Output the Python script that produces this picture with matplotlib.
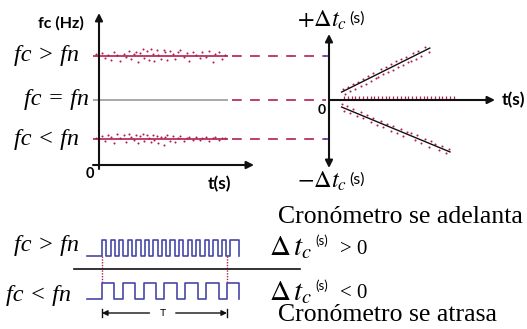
import numpy as np
import matplotlib
matplotlib.use("Agg")
import matplotlib.pyplot as plt

plt.rcParams['mathtext.fontset'] = 'stix'
plt.rcParams['lines.scale_dashes'] = False

# ---------------- data ----------------
# left panel: frequency levels (relative, fc = fn at 0)
freq_levels = [1.0, 0.0, -0.886]          # fc>fn, fc=fn, fc<fn
level_labels = ['fc > fn', 'fc = fn', 'fc < fn']
t_line = [-0.47, 10.0]                    # time span of the level lines (s)
t_guide = [10.3, 17.6]                    # dashed guide span

t_noise = [-0.2, 0.2, 0.5, 0.7, 0.9, 1.2, 1.4, 1.6, 1.9, 2.1, 2.3, 2.5, 2.7, 2.9, 3.0, 3.2,
           3.4, 3.5, 3.7, 3.9, 4.0, 4.2, 4.3, 4.5, 4.6, 4.8, 5.0, 5.1, 5.3, 5.5, 5.7, 5.9,
           6.1, 6.3, 6.6, 6.8, 7.0, 7.3, 7.5, 7.8, 8.0, 8.3, 8.5, 8.8, 9.0, 9.3, 9.5, 9.8]
off_hi = [0.04, 0.06, -0.05, 0.03, -0.08, 0.09, 0.02, -0.11, 0.05, -0.03, 0.12, -0.07, 0.04,
          0.10, -0.13, 0.07, 0.15, -0.04, 0.11, -0.09, 0.16, 0.05, -0.12, 0.13, 0.02, -0.06,
          0.14, 0.08, -0.10, 0.12, 0.04, -0.07, 0.09, 0.13, -0.03, 0.06, -0.11, 0.10, 0.03,
          -0.05, 0.08, -0.02, 0.11, -0.14, 0.05, 0.09, -0.06, 0.03]
off_lo = [0.03, 0.07, -0.04, 0.10, 0.05, -0.08, 0.11, 0.02, 0.09, -0.06, 0.12, 0.04, -0.03,
          0.08, -0.10, 0.06, 0.11, -0.05, 0.09, 0.03, -0.07, 0.10, -0.02, 0.06, -0.09, 0.04,
          -0.13, 0.05, 0.08, -0.04, 0.07, -0.06, 0.03, 0.06, -0.05, 0.02, 0.05, -0.03, 0.04,
          -0.02, 0.03, 0.05, -0.04, 0.02, 0.04, -0.03, 0.02, 0.03]

# right panel: clock offset Delta t_c versus time
t_up = [1.1, 1.3, 1.5, 1.7, 1.9, 2.1, 2.3, 2.5, 2.7, 2.9, 3.1, 3.3, 3.5, 3.7, 3.9, 4.1, 4.3,
        4.5, 4.7, 4.9, 5.1, 5.3, 5.5, 5.7, 5.9, 6.1, 6.3, 6.5, 6.7, 6.9, 7.1, 7.3, 7.6, 7.9]
dt_up = [0.24, 0.13, 0.30, 0.20, 0.37, 0.26, 0.42, 0.31, 0.48, 0.36, 0.55, 0.44, 0.62, 0.50,
         0.52, 0.70, 0.58, 0.76, 0.63, 0.82, 0.68, 0.88, 0.74, 0.93, 0.80, 0.98, 0.86, 0.89,
         1.06, 0.93, 1.12, 1.01, 1.20, 1.10]
t_dn = [1.0, 1.2, 1.4, 1.7, 1.9, 2.2, 2.5, 2.7, 3.0, 3.3, 3.5, 3.8, 4.1, 4.3, 4.6, 4.9, 5.1,
        5.4, 5.7, 5.9, 6.2, 6.5, 6.8, 7.0, 7.3, 7.6, 7.9, 8.1, 8.4, 8.7, 9.0, 9.3, 9.5]
dt_dn = [-0.08, -0.24, -0.14, -0.30, -0.20, -0.36, -0.27, -0.42, -0.33, -0.50, -0.40, -0.56,
         -0.47, -0.62, -0.54, -0.70, -0.58, -0.75, -0.66, -0.82, -0.72, -0.76, -0.92, -0.80,
         -0.98, -0.88, -1.06, -0.93, -0.99, -1.13, -1.04, -1.21, -1.12]
fit_up_t, fit_up_dt = [1.0, 8.0], [0.18, 1.18]
fit_dn_t, fit_dn_dt = [1.0, 9.6], [-0.16, -1.18]
zero_t = [1.2, 1.5, 1.8, 2.1, 2.4, 2.7, 3.0, 3.3, 3.6, 3.9, 4.2, 4.5, 4.8, 5.1, 5.4, 5.7, 6.0,
          6.3, 6.6, 6.9, 7.2, 7.5, 7.8, 8.1, 8.4, 8.7, 9.0, 9.3, 9.6, 9.9]

# bottom: pulse trains over window T
n_fast, fast_period, fast_end = 16, 0.0685, 1.096
n_slow, slow_period, slow_high = 7, 1 / 6, 0.10
lead_in = -0.12

RED = '#B0204E'
BLUE = '#4848A8'
W, H = 527, 329

fig = plt.figure(figsize=(W / 100, H / 100), dpi=100)


def data_axes(box, xcal, ycal):
    L, T, R, B = box
    ax = fig.add_axes([L / W, 1 - B / H, (R - L) / W, (B - T) / H])
    (d0, p0), (d1, p1) = xcal
    s = (d1 - d0) / (p1 - p0)
    ax.set_xlim(d0 + (L - p0) * s, d0 + (R - p0) * s)
    (e0, q0), (e1, q1) = ycal
    s2 = (e1 - e0) / (q1 - q0)
    ax.set_ylim(e0 + (B - q0) * s2, e0 + (T - q0) * s2)
    ax.axis('off')
    return ax


# overlay for axes arrows and text (pixel coordinates)
ov = fig.add_axes([0, 0, 1, 1], zorder=5)
ov.set_xlim(0, W)
ov.set_ylim(H, 0)
ov.axis('off')
ov.patch.set_alpha(0)


def arrow(x0, y0, x1, y1, style='-|>', lw=1.5, ms=11):
    ov.annotate('', xy=(x1, y1), xytext=(x0, y0),
                arrowprops=dict(arrowstyle=style, color='#111111', lw=lw,
                                mutation_scale=ms, shrinkA=0, shrinkB=0))


SCRIPT = dict(fontsize=17.5, style='italic', family='Liberation Serif', va='center')
SANSB = dict(fontweight='bold', family='Lato', ha='center', va='center')

# ---------------- left panel ----------------
ax1 = data_axes((80, 10, 262, 175), ((0, 99), (10, 228)), ((0, 100), (1, 56)))
for lvl, col in zip(freq_levels, [RED, '#9a9a9a', RED]):
    ax1.plot(t_line, [lvl, lvl], color=col, lw=1.2, solid_capstyle='butt')
    ax1.plot(t_guide, [lvl, lvl], color=RED, lw=1.2, clip_on=False, dashes=(7, 6))
ax1.scatter(t_noise, np.array(off_hi) + freq_levels[0], s=2.2, color=RED, lw=0)
ax1.scatter(t_noise, np.array(off_lo) + freq_levels[2], s=2.2, color=RED, lw=0)

arrow(99, 169, 99, 13)
arrow(93, 165, 254, 165)

ov.text(61, 23, 'fc (Hz)', fontsize=11.5, **SANSB)
ov.text(90, 174, '0', fontsize=10.5, **SANSB)
ov.text(219, 184, 't(s)', fontsize=12.5, **SANSB)
for lab, lvl_px, xr in zip(level_labels, [56, 100, 139], [79, 89, 79]):
    ov.text(xr, lvl_px, lab, ha='right', **SCRIPT)

# ---------------- right panel ----------------
ax2 = data_axes((300, 10, 500, 175), ((0, 329), (10, 455)), ((0, 100), (1, 56)))
ax2.plot(fit_up_t, fit_up_dt, color='#111111', lw=1.0)
ax2.plot(fit_dn_t, fit_dn_dt, color='#111111', lw=1.0)
ax2.scatter(t_up, dt_up, s=2.2, color=RED, lw=0)
ax2.scatter(t_dn, dt_dn, s=2.2, color=RED, lw=0)
ax2.scatter(zero_t, [0.04] * len(zero_t), s=6, color=RED, marker='|', lw=0.9)
ax2.plot([-0.3, 0.0], [1.0, 1.0], color=BLUE, lw=1.2, clip_on=False)
ax2.plot([-0.3, 0.0], [freq_levels[2], freq_levels[2]], color=BLUE, lw=1.2, clip_on=False)

arrow(329, 100, 329, 34)
arrow(329, 100, 329, 168)
arrow(329, 100, 495, 100)

ov.text(297, 20, r'$+\Delta t_c$', fontsize=17.5, ha='left', va='center')
ov.text(349, 19, '(s)', fontsize=11.5, family='Lato', ha='left', va='center')
ov.text(297, 181, r'$-\Delta t_c$', fontsize=17.5, ha='left', va='center')
ov.text(349, 180, '(s)', fontsize=11.5, family='Lato', ha='left', va='center')
ov.text(322, 110, '0', fontsize=10, **SANSB)
ov.text(513, 100, 't(s)', fontsize=12.5, **SANSB)

# ---------------- bottom pulse trains ----------------
ax3 = data_axes((70, 228, 310, 322), ((0, 102), (1, 227)), ((0, 299), (1, 283)))


def square(rises, falls, base):
    xs, ys = [lead_in, rises[0]], [base, base]
    for r, f in zip(rises, falls):
        xs += [r, r, f, f]
        ys += [base, base + 1, base + 1, base]
    return xs, ys


base_fast = 2.69
fr = [k * fast_period for k in range(n_fast)]
ff = [r + fast_period / 2 for r in fr]
ff[-1] = fast_end
xf, yf = square(fr, ff, base_fast)
ax3.plot(xf, yf, color=BLUE, lw=1.2)

sr = [k * slow_period for k in range(n_slow)]
sf = [r + slow_high for r in sr]
xs_, ys_ = square(sr, sf, 0.0)
ax3.plot(xs_, ys_, color=BLUE, lw=1.2)

for tv in [0.0, 1.0]:
    ax3.plot([tv, tv], [base_fast, 1.0], color=RED, lw=1.0, ls=(0, (1, 1)))
ax3.plot([-0.224, 1.584], [1.875, 1.875], color='#111111', lw=1.2)

# T span arrow
ax3.annotate('', xy=(0.0, -0.875), xytext=(0.38, -0.875),
             arrowprops=dict(arrowstyle='-|>', color='#111111', lw=1.0, mutation_scale=8,
                             shrinkA=0, shrinkB=0))
ax3.annotate('', xy=(1.0, -0.875), xytext=(0.59, -0.875),
             arrowprops=dict(arrowstyle='-|>', color='#111111', lw=1.0, mutation_scale=8,
                             shrinkA=0, shrinkB=0))
ax3.plot([0.0, 0.0], [-0.6, -1.15], color='#111111', lw=1.0)
ax3.plot([1.0, 1.0], [-0.6, -1.15], color='#111111', lw=1.0)
ax3.text(0.49, -0.875, 'T', fontsize=7.5, family='Lato', ha='center', va='center')

ov.text(79, 245, 'fc > fn', ha='right', **SCRIPT)
ov.text(71, 296, 'fc < fn', ha='right', **SCRIPT)

ov.text(278, 217, 'Cronómetro se adelanta', fontsize=18.5, family='Liberation Serif',
        ha='left', va='center')
ov.text(278, 315, 'Cronómetro se atrasa', fontsize=18.5, family='Liberation Serif',
        ha='left', va='center')
ov.text(269, 247, r'$\Delta\,t_c$', fontsize=21, ha='left', va='center')
ov.text(315, 241, '(s)', fontsize=9.5, family='Lato', ha='left', va='center')
ov.text(340, 249, '> 0', fontsize=15, family='Liberation Serif', ha='left', va='center')
ov.text(269, 292, r'$\Delta\,t_c$', fontsize=21, ha='left', va='center')
ov.text(315, 286, '(s)', fontsize=9.5, family='Lato', ha='left', va='center')
ov.text(340, 294, '< 0', fontsize=15, family='Liberation Serif', ha='left', va='center')

fig.savefig('out.png', dpi=100)
